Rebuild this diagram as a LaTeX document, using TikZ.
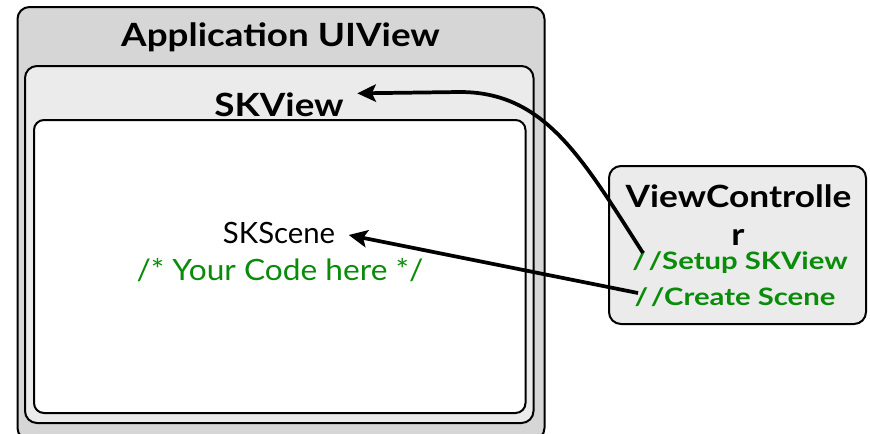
\documentclass[tikz,border=0pt]{standalone}
\usepackage{fontspec}
\setmainfont{Lato}
\newfontfamily\widelato[FakeStretch=1.15]{Lato}
\newfontfamily\codelato[FakeStretch=1.08]{Lato}
\newfontfamily\vclato[FakeStretch=1.22]{Lato}
\usetikzlibrary{arrows.meta}
\definecolor{outergray}{HTML}{D6D6D6}
\definecolor{lightgray}{HTML}{EBEBEB}
\definecolor{codegreen}{RGB}{10,140,10}
\tikzset{
  box/.style={draw=black, line width=1.5pt, rounded corners=9pt, inner sep=0pt},
  title/.style={font=\widelato\fontsize{24}{28}\selectfont\bfseries, inner sep=0pt, anchor=base},
  vctitle/.style={font=\widelato\fontsize{23}{27}\selectfont\bfseries, inner sep=0pt, anchor=base},
  plain/.style={font=\fontsize{22}{26}\selectfont, inner sep=0pt, anchor=base},
  code/.style={text=codegreen, font=\codelato\fontsize{22}{26}\selectfont, inner sep=0pt, anchor=base},
  vccode/.style={text=codegreen, font=\vclato\fontsize{18}{22}\selectfont\bfseries, inner sep=0pt, anchor=base},
  link/.style={line width=2.8pt, -{Stealth[length=14pt,width=13pt,inset=3pt]}},
}
\begin{document}
\begin{tikzpicture}[x=0.75pt,y=-0.75pt]
\useasboundingbox (0,0) rectangle (870,433);
\begin{scope}
\clip (0,0) rectangle (870,433);
\node[box, fill=outergray, minimum width=527*0.75pt, minimum height=433*0.75pt] (app) at (281,223.5) {};
\end{scope}
\node[box, fill=lightgray, minimum width=508.5*0.75pt, minimum height=357*0.75pt] (skview) at (279.25,244.5) {};
\node[box, fill=white, rounded corners=7.5pt, minimum width=491.5*0.75pt, minimum height=293*0.75pt] (skscene) at (279.75,266.5) {};
\node[box, fill=lightgray, minimum width=257*0.75pt, minimum height=158*0.75pt] (vc) at (737.5,245) {};

\node[title] (apptitle) at (280.5,46.5) {Application UIView};
\node[title] (skviewtitle) at (279,116) {SKView};
\node[plain] (scenetitle) at (279,243) {SKScene};
\node[code] (yourcode) at (280,280) {/* Your Code here */};

\node[vctitle] (vctitle1) at (738.5,207) {ViewControlle};
\node[vctitle] (vctitle2) at (738,245) {r};
\node[vccode] (setup) at (740,269) {/\kern2pt/Setup SKView};
\node[vccode] (create) at (735,305) {/\kern2pt/Create Scene};

\coordinate (setuptail) at (643,253);
\coordinate (createtail) at (638,293);
\coordinate (skviewport) at ([xshift=10pt,yshift=-1pt]skviewtitle.north east);
\coordinate (sceneport) at ([xshift=10pt,yshift=6pt]scenetitle.base east);
\draw[link] (setuptail) .. controls (582,158) and (545,92) .. (460,92) -- (skviewport);
\draw[link] (createtail) -- (sceneport);
\end{tikzpicture}
\end{document}
